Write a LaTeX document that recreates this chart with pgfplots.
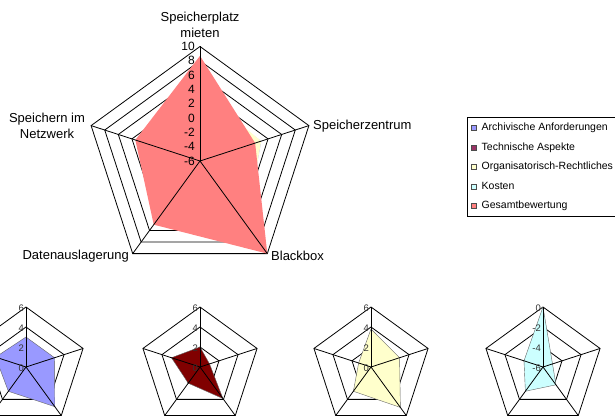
\documentclass[border=0pt]{standalone}
\usepackage{pgfplots}
\pgfplotsset{compat=1.18}
\usepackage{pgfplotstable}
\usepackage{fontspec}
\setmainfont{Liberation Sans}

\definecolor{arch}{HTML}{9999FF}
\definecolor{tech}{HTML}{993366}
\definecolor{techd}{HTML}{800000}
\definecolor{org}{HTML}{FFFFCC}
\definecolor{kost}{HTML}{CCFFFF}
\definecolor{ges}{HTML}{FF8080}

% values per axis: Speicherplatz mieten, Speicherzentrum, Blackbox, Datenauslagerung, Speichern im Netzwerk (first repeated to close)
\pgfplotstableread{
ang arch tech org kost ges
90   3    2    3.8  0    8.7
18   3    1.0  3    -5   2.1
-54  4.9  3.9  5    -3.8 10
-126 3    2    3    -3   5
162  3.2  3    1.3  -4   3.5
90   3    2    3.8  0    8.7
}\data

\tikzset{gridline/.style={black, line width=0.8pt}}
\newcommand{\pent}[3]{\draw[gridline] ([shift={(90:#3)}]axis cs:#1,#2) -- ([shift={(18:#3)}]axis cs:#1,#2) -- ([shift={(-54:#3)}]axis cs:#1,#2) -- ([shift={(-126:#3)}]axis cs:#1,#2) -- ([shift={(162:#3)}]axis cs:#1,#2) -- cycle;}
\newcommand{\spokes}[3]{\foreach \a in {90,18,-54,-126,162} {\draw[gridline] (axis cs:#1,#2) -- ([shift={(\a:#3)}]axis cs:#1,#2);}}

\begin{document}
\begin{tikzpicture}
\begin{axis}[
  x=1pt, y=1pt, xmin=0, xmax=615, ymin=0, ymax=419, y dir=reverse,
  hide axis, clip=false, anchor=south west, at={(0,0)},
  legend style={at={(0.7593,0.7208)}, anchor=north west, draw=black, line width=0.6pt,
    font=\fontsize{10.5}{12}\selectfont, inner xsep=4pt, inner ysep=5.5pt,
    row sep=9pt, column sep=5pt,
    nodes={inner sep=0pt, text height=8pt, text depth=2.5pt, anchor=west}},
  legend cell align=left,
  legend image code/.code={\draw[#1, draw=black!70, line width=0.4pt] (0pt,-2.5pt) rectangle (5pt,2.5pt);},
]
% ---- grids (below fills)
\pgfplotsextra{
  \foreach \k in {1,...,8} {\pgfmathsetmacro\r{114.5*\k/8}\pent{200}{161}{\r pt}}
  \foreach \cx in {26,200,371,543} {\foreach \k in {1,2,3} {\pgfmathsetmacro\r{60*\k/3}\pent{\cx}{367}{\r pt}}}
}
% ---- main radar (-6 .. 10)
\addplot[fill=arch, draw=none] table[x expr={200+114.5*(\thisrow{arch}+6)/16*cos(\thisrow{ang})}, y expr={161-114.5*(\thisrow{arch}+6)/16*sin(\thisrow{ang})}] {\data};
\addlegendentry{Archivische Anforderungen}
\addplot[fill=tech, draw=none] table[x expr={200+114.5*(\thisrow{tech}+6)/16*cos(\thisrow{ang})}, y expr={161-114.5*(\thisrow{tech}+6)/16*sin(\thisrow{ang})}] {\data};
\addlegendentry{Technische Aspekte}
\addplot[fill=org, draw=none] table[x expr={200+114.5*(\thisrow{org}+6)/16*cos(\thisrow{ang})}, y expr={161-114.5*(\thisrow{org}+6)/16*sin(\thisrow{ang})}] {\data};
\addlegendentry{Organisatorisch-Rechtliches}
\addplot[fill=kost, draw=none] table[x expr={200+114.5*(\thisrow{kost}+6)/16*cos(\thisrow{ang})}, y expr={161-114.5*(\thisrow{kost}+6)/16*sin(\thisrow{ang})}] {\data};
\addlegendentry{Kosten}
\addplot[fill=ges, draw=none] table[x expr={200+114.5*(\thisrow{ges}+6)/16*cos(\thisrow{ang})}, y expr={161-114.5*(\thisrow{ges}+6)/16*sin(\thisrow{ang})}] {\data};
\addlegendentry{Gesamtbewertung}
% ---- small radars
\addplot[forget plot, fill=arch, draw=black!60, line width=0.4pt] table[x expr={26+60*(\thisrow{arch})/6*cos(\thisrow{ang})}, y expr={367-60*(\thisrow{arch})/6*sin(\thisrow{ang})}] {\data};
\addplot[forget plot, fill=techd, draw=black!60, line width=0.4pt] table[x expr={200+60*(\thisrow{tech})/6*cos(\thisrow{ang})}, y expr={367-60*(\thisrow{tech})/6*sin(\thisrow{ang})}] {\data};
\addplot[forget plot, fill=org, draw=black!60, line width=0.4pt] table[x expr={371+60*(\thisrow{org})/6*cos(\thisrow{ang})}, y expr={367-60*(\thisrow{org})/6*sin(\thisrow{ang})}] {\data};
\addplot[forget plot, fill=kost, draw=black!60, line width=0.4pt] table[x expr={543+60*(\thisrow{kost}+6)/6*cos(\thisrow{ang})}, y expr={367-60*(\thisrow{kost}+6)/6*sin(\thisrow{ang})}] {\data};
% ---- spokes and value labels (above fills)
\pgfplotsextra{
  \spokes{200}{161}{114.5pt}
  \foreach \cx in {26,200,371,543} {\spokes{\cx}{367}{60pt}}
  \foreach \v in {-6,-4,...,10} {\node[anchor=east, inner sep=0pt, font=\fontsize{12}{12}\selectfont] at ([yshift={114.5pt*(\v+6)/16}]axis cs:195,161) {\v};}
  \foreach \cx in {26,200,371} {\foreach \v in {0,2,4,6} {\node[anchor=east, inner sep=0pt, text=black!80, font=\fontsize{9.5}{9.5}\selectfont] at ([yshift={60pt*\v/6}]axis cs:\cx-2,368) {\v};}}
  \foreach \v in {-6,-4,-2,0} {\node[anchor=east, inner sep=0pt, text=black!80, font=\fontsize{9.5}{9.5}\selectfont] at ([yshift={60pt*(\v+6)/6}]axis cs:541,368) {\v};}
}
% ---- category labels
\node[align=center, font=\fontsize{13}{16}\selectfont] at (axis cs:200,25) {Speicherplatz\\mieten};
\node[anchor=west, inner sep=0pt, font=\fontsize{13}{16}\selectfont] at (axis cs:313,126) {Speicherzentrum};
\node[anchor=west, inner sep=0pt, font=\fontsize{13}{16}\selectfont] at (axis cs:271,256) {Blackbox};
\node[anchor=east, inner sep=0pt, font=\fontsize{13}{16}\selectfont] at (axis cs:129,256) {Datenauslagerung};
\node[align=center, font=\fontsize{13}{16}\selectfont] at (axis cs:47,126) {Speichern im\\Netzwerk};
\end{axis}
\pgfresetboundingbox
\useasboundingbox (0,0) rectangle (615pt,419pt);
\end{tikzpicture}
\end{document}
